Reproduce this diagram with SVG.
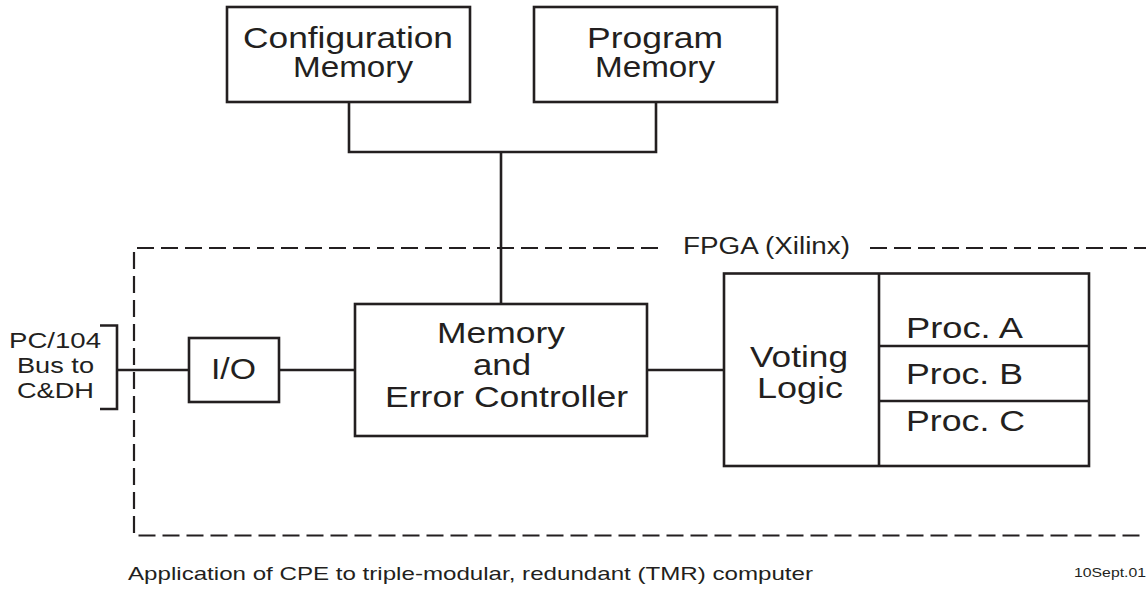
<svg xmlns="http://www.w3.org/2000/svg" width="1146" height="592" viewBox="0 0 1146 592">
<style>
  .box { fill: #ffffff; stroke: #231f20; stroke-width: 2.6; }
  .wire { fill: none; stroke: #231f20; stroke-width: 2.6; }
  .dash { fill: none; stroke: #231f20; stroke-width: 2.2; stroke-dasharray: 17 7; }
  .t { font-family: "Liberation Sans", Arial, sans-serif; fill: #231f20; }
  .big { font-size: 29px; }
  .mid { font-size: 22px; }
</style>
<rect width="1146" height="592" fill="#ffffff"/>

<g id="fpga-boundary">
  <path class="dash" d="M658,248 H134 V535.5 H1146"/>
  <path class="dash" d="M870,248 H1146"/>
  <text class="t" x="683" y="254" font-size="23" textLength="167" lengthAdjust="spacingAndGlyphs">FPGA (Xilinx)</text>
</g>

<g id="connectors">
  <path class="wire" d="M349,102 V152 H656 V102"/>
  <path class="wire" d="M501,152 V304"/>
  <path class="wire" d="M117,370 H189"/>
  <path class="wire" d="M279,370 H355"/>
  <path class="wire" d="M647,370 H724"/>
</g>

<g id="config-memory">
  <rect class="box" x="227" y="7" width="243" height="95"/>
  <text class="t big" x="243" y="48" textLength="210" lengthAdjust="spacingAndGlyphs">Configuration</text>
  <text class="t big" x="293" y="77" textLength="120" lengthAdjust="spacingAndGlyphs">Memory</text>
</g>

<g id="program-memory">
  <rect class="box" x="534" y="7" width="243" height="95"/>
  <text class="t big" x="587" y="48" textLength="136" lengthAdjust="spacingAndGlyphs">Program</text>
  <text class="t big" x="595" y="77" textLength="120" lengthAdjust="spacingAndGlyphs">Memory</text>
</g>

<g id="pc104-bus">
  <path class="wire" d="M100,325.5 H117 V409 H100"/>
  <text class="t mid" x="9" y="348" textLength="92" lengthAdjust="spacingAndGlyphs">PC/104</text>
  <text class="t mid" x="17" y="373" textLength="77" lengthAdjust="spacingAndGlyphs">Bus to</text>
  <text class="t mid" x="17" y="398" textLength="77" lengthAdjust="spacingAndGlyphs">C&amp;DH</text>
</g>

<g id="io">
  <rect class="box" x="189" y="338" width="90" height="64"/>
  <text class="t" x="211" y="379" font-size="30" textLength="45" lengthAdjust="spacingAndGlyphs">I/O</text>
</g>

<g id="memory-error-controller">
  <rect class="box" x="355" y="304" width="292" height="132"/>
  <text class="t big" x="437" y="343" textLength="128" lengthAdjust="spacingAndGlyphs">Memory</text>
  <text class="t big" x="473" y="375" textLength="58" lengthAdjust="spacingAndGlyphs">and</text>
  <text class="t big" x="385" y="407" textLength="243" lengthAdjust="spacingAndGlyphs">Error Controller</text>
</g>

<g id="voting-logic">
  <rect class="box" x="724" y="273.5" width="365" height="192.5"/>
  <path class="wire" d="M879,273.5 V466"/>
  <text class="t big" x="750" y="367" textLength="98" lengthAdjust="spacingAndGlyphs">Voting</text>
  <text class="t big" x="757" y="398" textLength="86" lengthAdjust="spacingAndGlyphs">Logic</text>
</g>

<g id="processors">
  <path class="wire" d="M879,346 H1089 M879,401 H1089"/>
  <text class="t big" x="906" y="338" textLength="117" lengthAdjust="spacingAndGlyphs">Proc. A</text>
  <text class="t big" x="906" y="384" textLength="117" lengthAdjust="spacingAndGlyphs">Proc. B</text>
  <text class="t big" x="906" y="431" textLength="119" lengthAdjust="spacingAndGlyphs">Proc. C</text>
</g>

<g id="caption">
  <text class="t" x="128" y="580" font-size="19" textLength="685" lengthAdjust="spacingAndGlyphs">Application of CPE to triple-modular, redundant (TMR) computer</text>
  <text class="t" x="1074" y="577" font-size="12" textLength="72" lengthAdjust="spacingAndGlyphs">10Sept.01</text>
</g>
</svg>
